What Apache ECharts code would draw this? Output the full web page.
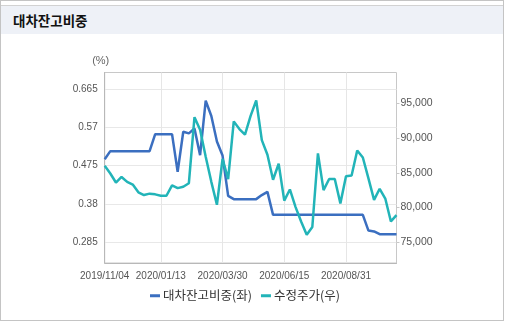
<!DOCTYPE html>
<html>
<head>
<meta charset="utf-8">
<script src="https://cdn.jsdelivr.net/npm/echarts@6/dist/echarts.min.js"></script>
<style>
  html, body { margin: 0; padding: 0; background: #fff; }
  #wrap { position: relative; width: 505px; height: 322px; overflow: hidden; }
  #frame { position: absolute; left: 0; top: 0; width: 502px; height: 319px; border: 1px solid #c4c4c4; box-sizing: content-box; }
  #hdr { position: absolute; left: 1px; top: 5px; width: 502px; height: 28px; background: #eef1f7; border-top: 1px solid #d2d2d2; }
  #ttl { position: absolute; left: 13px; top: 12px; font: bold 13.5px "Noto Sans CJK KR", sans-serif; color: #111; line-height: 16px; }
  #chart { position: absolute; left: 0; top: 0; width: 505px; height: 322px; }
</style>
</head>
<body>
<div id="wrap">
  <div id="frame"></div>
  <div id="hdr"></div>
  <div id="ttl">대차잔고비중</div>
  <div id="chart"></div>
</div>
<script>
// weekly dates 2019/11/04 .. 2020/11/02
const startDate = new Date(2019, 10, 4);
const dates = [];
for (let i = 0; i < 53; i++) {
  const d = new Date(startDate.getTime() + i * 7 * 86400000);
  const mm = String(d.getMonth() + 1).padStart(2, '0');
  const dd = String(d.getDate()).padStart(2, '0');
  dates.push(d.getFullYear() + '/' + mm + '/' + dd);
}
const labelIdx = [0, 10, 21, 32, 43];
const leftTicks = [0.285, 0.38, 0.475, 0.57, 0.665];
const rightTicks = [75000, 80000, 85000, 90000, 95000];

const ratio = [
  0.491, 0.511, 0.511, 0.511, 0.511, 0.511, 0.511, 0.511, 0.511, 0.553,
  0.553, 0.553, 0.553, 0.460, 0.559, 0.555, 0.567, 0.501, 0.636, 0.598,
  0.535, 0.500, 0.400, 0.392, 0.392, 0.392, 0.392, 0.392, 0.402, 0.410,
  0.353, 0.353, 0.353, 0.353, 0.353, 0.353, 0.353, 0.353, 0.353, 0.353,
  0.353, 0.353, 0.353, 0.353, 0.353, 0.353, 0.353, 0.314, 0.312, 0.305,
  0.305, 0.305, 0.305
];
const price = [
  86000, 84900, 83600, 84400, 83700, 83300, 82200, 81800, 82000, 81900,
  81700, 81700, 83200, 82800, 83000, 83500, 93000, 91200, 87300, 83700,
  80400, 87000, 84100, 92400, 91300, 90500, 93200, 95400, 89700, 87600,
  84000, 86300, 81000, 82600, 80100, 78000, 76100, 77200, 87800, 82500,
  84100, 84100, 80600, 84500, 84600, 88200, 87200, 84200, 81100, 82700,
  81300, 78000, 78900
];
const seriesNames = ['대차잔고비중(좌)', '수정주가(우)'];

const chart = echarts.init(document.getElementById('chart'), null, { renderer: 'canvas' });
const axisFont = { fontFamily: 'Liberation Sans, Arial, sans-serif', fontSize: 10, color: '#555' };
chart.setOption({
  animation: false,
  grid: { left: 104.7, right: 108.5, top: 72.5, bottom: 59, show: true, borderColor: '#c8c8c8', borderWidth: 1 },
  legend: {
    data: seriesNames,
    bottom: 15, left: 145,
    icon: 'rect', itemWidth: 10, itemHeight: 3, itemGap: 9,
    textStyle: { fontFamily: 'Noto Sans CJK KR, sans-serif', fontSize: 12.5, color: '#333', padding: [0, 0, 0, -2] }
  },
  xAxis: {
    type: 'category', data: dates, boundaryGap: false,
    axisLine: { show: true, lineStyle: { color: '#b8b8b8' } },
    axisTick: { show: false, interval: (i) => labelIdx.includes(i) },
    axisLabel: Object.assign({ interval: (i) => labelIdx.includes(i), margin: 8 }, axisFont),
    splitLine: { show: true, interval: (i) => labelIdx.includes(i), lineStyle: { color: '#e6e6e6' } }
  },
  yAxis: [
    {
      type: 'value', min: 0.2337, max: 0.7059, position: 'left',
      name: '(%)', nameLocation: 'end', nameGap: 6,
      nameTextStyle: { fontFamily: 'Liberation Sans, Arial, sans-serif', fontSize: 11, color: '#666', padding: [0, 8, 0, 0] },
      axisLine: { show: true, lineStyle: { color: '#b8b8b8' } },
      axisTick: { show: false, customValues: leftTicks },
      axisLabel: Object.assign({ customValues: leftTicks, margin: 7,
        formatter: (v) => String(+v.toFixed(3)) }, axisFont),
      splitLine: { show: true, lineStyle: { color: '#e8e8e8' } }
    },
    {
      type: 'value', min: 72021, max: 99432, position: 'right',
      axisLine: { show: false },
      axisTick: { show: true, length: 3, customValues: rightTicks, lineStyle: { color: '#c8c8c8' } },
      axisLabel: Object.assign({ customValues: rightTicks, margin: 4,
        formatter: (v) => Math.round(v).toLocaleString('en-US') }, axisFont, { fontSize: 10.5 }),
      splitLine: { show: false }
    }
  ],
  series: [
    {
      name: seriesNames[0], type: 'line', yAxisIndex: 0, data: ratio,
      showSymbol: false, symbol: 'none',
      lineStyle: { color: '#3b6fc0', width: 2.5 }, itemStyle: { color: '#3b6fc0' }
    },
    {
      name: seriesNames[1], type: 'line', yAxisIndex: 1, data: price,
      showSymbol: false, symbol: 'none',
      lineStyle: { color: '#22b4b8', width: 2.5 }, itemStyle: { color: '#22b4b8' }
    }
  ]
});
</script>
</body>
</html>
